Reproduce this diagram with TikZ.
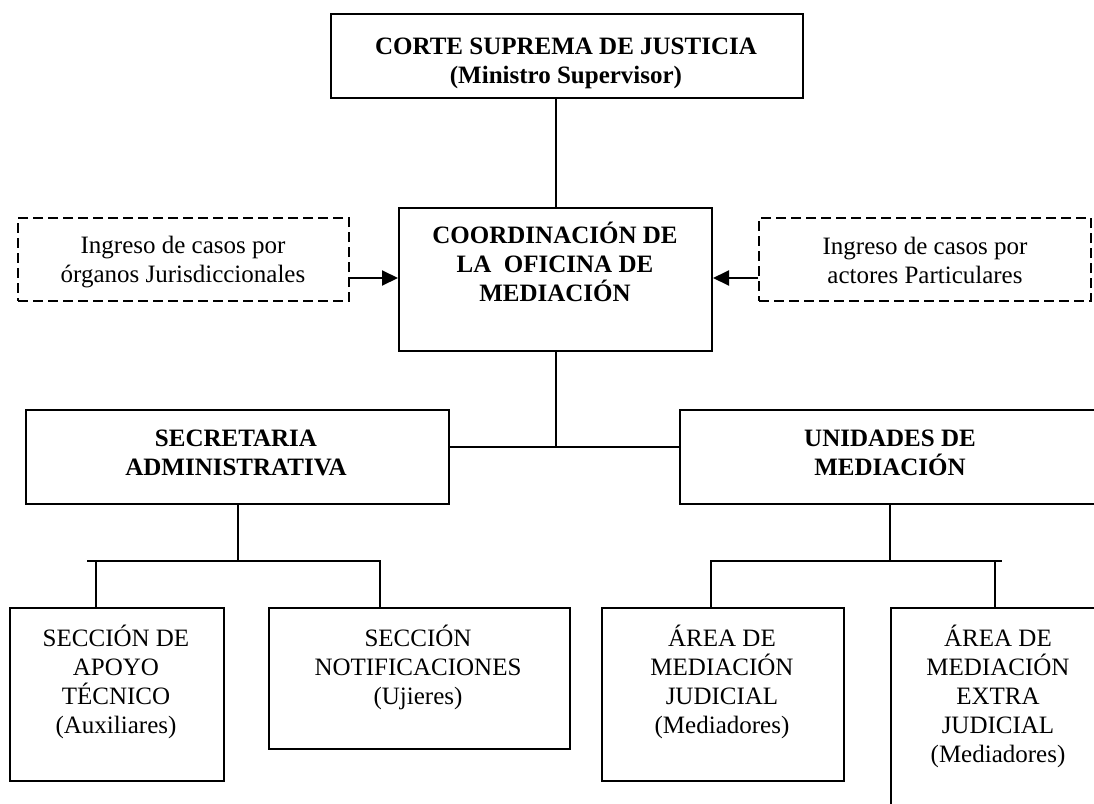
\documentclass[tikz,border=0pt]{standalone}
\usepackage{fontspec}
\setmainfont{Liberation Serif}
\usetikzlibrary{arrows.meta}
\newcommand{\boxlines}[1]{\parbox[t]{440pt}{\centering #1}}
\begin{document}
\begin{tikzpicture}[x=1pt,y=-1pt,
  box/.style={draw, line width=2pt, inner sep=0pt, anchor=north west},
  dbox/.style={box, dash pattern=on 10pt off 5pt},
  txt/.style={inner sep=0pt, anchor=base, font=\fontsize{25}{29}\selectfont},
  conn/.style={line width=2pt},
  arr/.style={conn, -{Triangle[length=16pt,width=15pt]}}]
\clip (0,0) rectangle (1094,803);
\fill[white] (0,0) rectangle (1094,803);

% boxes
\node[box, minimum width=472pt, minimum height=84pt] (top) at (330,13) {};
\node[box, minimum width=313pt, minimum height=143pt] (coord) at (398,207) {};
\node[dbox, minimum width=331pt, minimum height=83pt] (dl) at (17,217) {};
\node[dbox, minimum width=332pt, minimum height=83pt] (dr) at (758,217) {};
\node[box, minimum width=423pt, minimum height=94pt] (sec) at (25,409) {};
\node[box, minimum width=430pt, minimum height=94pt] (uni) at (679,409) {};
\node[box, minimum width=214pt, minimum height=173pt] (apoyo) at (9,607) {};
\node[box, minimum width=301pt, minimum height=141pt] (notif) at (268,607) {};
\node[box, minimum width=242pt, minimum height=173pt] (jud) at (601,607) {};
\node[box, minimum width=216pt, minimum height=230pt] (extra) at (890,607) {};

% texts
\node[txt] (topT) at (566,54) {\boxlines{\bfseries CORTE SUPREMA DE JUSTICIA\\(Ministro Supervisor)}};
\node[txt] (coordT) at (555,243) {\boxlines{\bfseries COORDINACIÓN DE\\LA\ \ OFICINA DE\\MEDIACIÓN}};
\node[txt] (dlT) at (183,253) {\boxlines{Ingreso de casos por\\órganos Jurisdiccionales}};
\node[txt] (drT) at (925,254) {\boxlines{Ingreso de casos por\\actores Particulares}};
\node[txt] (secT) at (236,446) {\boxlines{\bfseries SECRETARIA\\ADMINISTRATIVA}};
\node[txt] (uniT) at (890,446) {\boxlines{\bfseries UNIDADES DE\\MEDIACIÓN}};
\node[txt] (apoyoT) at (116,646) {\boxlines{SECCIÓN DE\\APOYO\\TÉCNICO\\(Auxiliares)}};
\node[txt] (notifT) at (418,646) {\boxlines{SECCIÓN\\NOTIFICACIONES\\(Ujieres)}};
\node[txt] (judT) at (722,646) {\boxlines{ÁREA DE\\MEDIACIÓN\\JUDICIAL\\(Mediadores)}};
\node[txt] (extraT) at (998,646) {\boxlines{ÁREA DE\\MEDIACIÓN\\EXTRA\\JUDICIAL\\(Mediadores)}};

% junction coordinates
\coordinate (hj) at (554,447);
\coordinate (sl) at (87,561);
\coordinate (sr) at (381,561);
\coordinate (t1) at (96,561);
\coordinate (t2) at (380,561);
\coordinate (ul) at (710,561);
\coordinate (ur) at (1002,561);
\coordinate (t3) at (711,561);
\coordinate (t4) at (995,561);

% connectors
\draw[conn] (coord.north) -- (coord.north |- top.south);
\draw[conn] (coord.south) -- (coord.south |- hj);
\draw[conn] (sec.east |- hj) -- (uni.west |- hj);
\draw[arr] (dl.east |- 0,278) -- (coord.west |- 0,278);
\draw[arr] (dr.west |- 0,278) -- (coord.east |- 0,278);
\draw[conn] (sec.south) -- (sec.south |- sl);
\draw[conn] (sl) -- (sr);
\draw[conn] (t1) -- (t1 |- apoyo.north);
\draw[conn] (t2) -- (t2 |- notif.north);
\draw[conn] (uniT.base |- uni.south) -- (uniT.base |- ul);
\draw[conn] (ul) -- (ur);
\draw[conn] (t3) -- (t3 |- jud.north);
\draw[conn] (t4) -- (t4 |- extra.north);
\end{tikzpicture}
\end{document}
